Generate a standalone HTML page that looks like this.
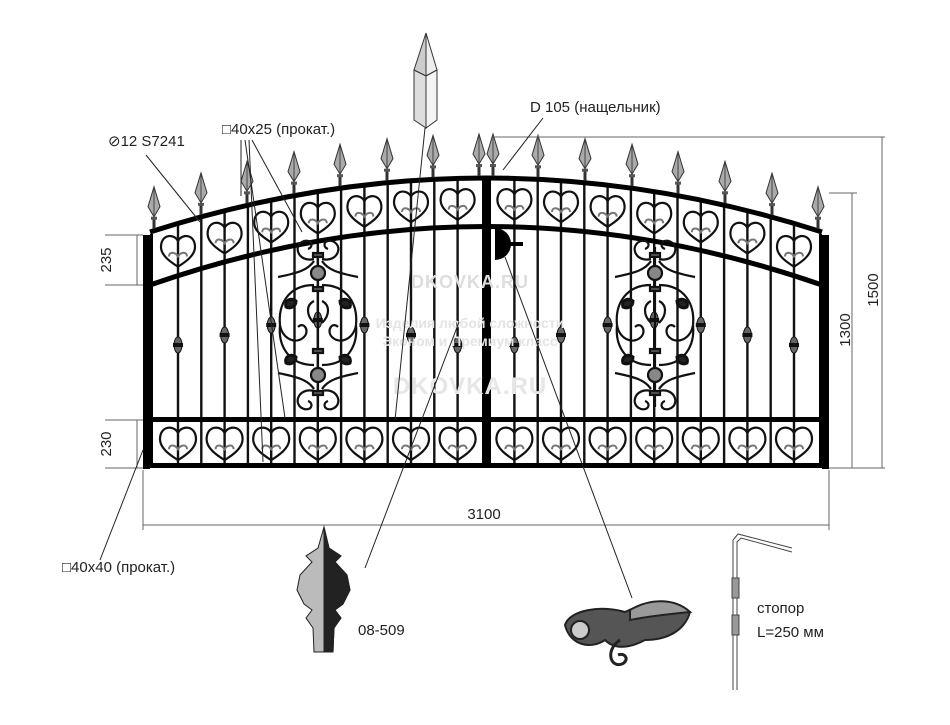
<!DOCTYPE html>
<html><head><meta charset="utf-8"><style>
html,body{margin:0;padding:0;background:#fff;width:950px;height:725px;overflow:hidden}
svg{display:block;font-family:"Liberation Sans",sans-serif}
</style></head><body>
<svg id="s" width="950" height="725" viewBox="0 0 950 725" xmlns="http://www.w3.org/2000/svg">
<defs>
<g id="orn" fill="none" stroke="#111" stroke-width="2.2">
  <line x1="0" y1="-78" x2="0" y2="82"/>
  <path d="M-4,-66 C-20,-62 -26,-80 -14,-84 C-6,-86 -4,-78 -10,-76"/>
  <path d="M4,-66 C20,-62 26,-80 14,-84 C6,-86 4,-78 10,-76"/>
  <path d="M-4,-64 C-10,-55 -20,-52 -40,-48"/>
  <path d="M4,-64 C10,-55 20,-52 40,-48"/>
  <path d="M-4,-40 C-30,-40 -40,-20 -38,0 C-36,14 -22,20 -14,12 C-8,6 -14,-4 -20,2"/>
  <path d="M4,-40 C30,-40 40,-20 38,0 C36,14 22,20 14,12 C8,6 14,-4 20,2"/>
  <path d="M-4,40 C-30,40 -40,20 -38,0"/>
  <path d="M4,40 C30,40 40,20 38,0"/>
  <path d="M-4,-2 C-12,-10 -12,-20 -4,-24"/>
  <path d="M4,-2 C12,-10 12,-20 4,-24"/>
  <path d="M-4,66 C-20,62 -26,80 -14,84 C-6,86 -4,78 -10,76"/>
  <path d="M4,66 C20,62 26,80 14,84 C6,86 4,78 10,76"/>
  <path d="M-4,64 C-10,55 -20,52 -40,48"/>
  <path d="M4,64 C10,55 20,52 40,48"/>
  <circle cx="0" cy="-52" r="7" fill="#888"/>
  <circle cx="0" cy="50" r="7" fill="#888"/>
  <rect x="-5" y="-72" width="10" height="4" fill="#555"/>
  <rect x="-5" y="-38" width="10" height="4" fill="#555"/>
  <rect x="-5" y="24" width="10" height="4" fill="#555"/>
  <rect x="-5" y="66" width="10" height="4" fill="#555"/>
  <path d="M-22,-24 c-6,-4 -12,0 -10,6 c4,2 10,0 10,-6z M22,-24 c6,-4 12,0 10,6 c-4,2 -10,0 -10,-6z M-22,32 c-6,-4 -12,0 -10,6 c4,2 10,0 10,-6z M22,32 c6,-4 12,0 10,6 c-4,2 -10,0 -10,-6z" fill="#222" stroke-width="3"/>
</g>
</defs>
<g id="g"></g>
<!-- watermark -->
<g fill="#ddd" font-weight="bold" text-anchor="middle">
<text x="470" y="288" font-size="18" letter-spacing="1">DKOVKA.RU</text>
<text x="470" y="328" font-size="14" fill="#e4e4e4">Изделия любой сложности</text>
<text x="470" y="346" font-size="14" fill="#e4e4e4">Эконом и Премиум класс</text>
<text x="470" y="394" font-size="24" fill="#e6e6e6" letter-spacing="1">DKOVKA.RU</text>
</g>
<!-- dimensions -->
<g stroke="#666" stroke-width="1" fill="none">
<path d="M105,235H143 M105,285H143 M137,235V285 M105,420H143 M105,468H143 M137,420V468"/>
<path d="M829,193H857 M829,468H885 M852,193V468 M493,137H885 M882,137V468"/>
<path d="M143,470V530 M829,470V530 M143,525H829"/>
</g>
<g font-size="15" fill="#222">
<text transform="translate(111,260) rotate(-90)" text-anchor="middle">235</text>
<text transform="translate(111,444) rotate(-90)" text-anchor="middle">230</text>
<text transform="translate(850,330) rotate(-90)" text-anchor="middle">1300</text>
<text transform="translate(878,290) rotate(-90)" text-anchor="middle">1500</text>
<text x="484" y="519" text-anchor="middle">3100</text>
<text x="108" y="146">⊘12 S7241</text>
<text x="222" y="134">□40x25 (прокат.)</text>
<text x="530" y="112">D 105 (нащельник)</text>
<text x="62" y="572">□40x40 (прокат.)</text>
<text x="358" y="635">08-509</text>
<text x="757" y="613">стопор</text>
<text x="757" y="637">L=250 мм</text>
</g>
<!-- leaders -->
<g stroke="#222" stroke-width="1">
<path d="M146,155L200,222 M245,140L285,418 M249,140L263,462 M252,140L302,232 M241,140L241,196 M543,118L503,170 M143,450L100,560 M365,568L459,322 M632,598L505,257 M425,128L395,420"/>
</g>
<!-- spike -->
<g stroke="#333" stroke-width="1">
<path d="M426,33L414,70L426,76Z" fill="#ccc"/><path d="M426,33L437,70L426,76Z" fill="#eee"/>
<path d="M414,70L426,76V128L414,120Z" fill="#ddd"/><path d="M426,76L437,70V120L426,128Z" fill="#f4f4f4"/>
</g>
<!-- finial 08-509 -->
<g stroke="#222" stroke-width="1">
<path d="M324,527 L318,548 L306,556 L312,562 L300,575 L297,590 L304,604 L312,610 L306,618 L313,628 L314,652 L333,652 L334,628 L341,618 L335,610 L343,604 L350,590 L347,575 L335,562 L341,556 L329,548Z" fill="#bbb"/>
<path d="M324,527 L329,548 L341,556 L335,562 L347,575 L350,590 L343,604 L335,610 L341,618 L334,628 L333,652 L324,652Z" fill="#222"/>
</g>
<!-- lock -->
<g stroke="#222" stroke-width="2">
<path d="M565,625 C570,610 600,605 625,612 C650,600 675,600 690,612 C685,630 668,640 645,640 C630,648 615,650 605,640 C590,650 570,645 565,625Z" fill="#555"/>
<circle cx="580" cy="630" r="9" fill="#ccc"/>
<path d="M620,640 C605,650 610,668 622,664 C630,660 625,652 618,655" fill="none" stroke-width="3"/>
<path d="M630,610 C650,598 675,598 690,612 C670,614 650,616 630,620Z" fill="#999"/>
</g>
<!-- stopper -->
<g stroke="#444" stroke-width="1" fill="none">
<path d="M733,690V540L738,534L792,548 M737,690V542L741,538L792,552"/>
<rect x="732" y="578" width="7" height="20" fill="#999"/>
<rect x="732" y="615" width="7" height="20" fill="#999"/>
</g>
</svg>
<script>
(function(){
var g=document.getElementById('g');var h='';
function yo(x){var t=(x-150)/672;return (1-t)*(1-t)*232+2*t*(1-t)*124+t*t*232;}
function yi(x){var t=(x-150)/672;return (1-t)*(1-t)*285+2*t*(1-t)*168+t*t*285;}
function heart(cx,cy,r){
 return '<path d="M'+cx+','+(cy+r*0.95)+' C'+(cx-r*0.4)+','+(cy+r*0.7)+' '+(cx-r)+','+(cy+r*0.3)+' '+(cx-r)+','+(cy-r*0.2)+' C'+(cx-r)+','+(cy-r)+' '+(cx-r*0.2)+','+(cy-r)+' '+cx+','+(cy-r*0.55)+' C'+(cx+r*0.2)+','+(cy-r)+' '+(cx+r)+','+(cy-r)+' '+(cx+r)+','+(cy-r*0.2)+' C'+(cx+r)+','+(cy+r*0.3)+' '+(cx+r*0.4)+','+(cy+r*0.7)+' '+cx+','+(cy+r*0.95)+'" fill="none" stroke="#111" stroke-width="2.2"/>'+
 '<path d="M'+(cx-9)+','+(cy+r*0.35)+' c0,-5 6,-5 9,0 c3,-5 9,-5 9,0" fill="none" stroke="#777" stroke-width="2"/>';
}
var L=[],R=[];
for(var i=0;i<13;i++){L.push(178+i*23.3);R.push(972-(178+i*23.3));}
var bars=L.concat(R);
bars.forEach(function(x){h+='<line x1="'+x+'" y1="'+yo(x)+'" x2="'+x+'" y2="465" stroke="#111" stroke-width="2.4"/>';});
for(var k=0;k<7;k++){[178+k*46.6,972-(178+k*46.6)].forEach(function(cx){
 var cy=(yo(cx)+yi(cx))/2; h+=heart(cx,cy+1,17); h+=heart(cx,443,18);});}
var cy=[345,340,335,330,325,322,320,322,325,330,335,340,345];
bars.forEach(function(x,i){var j=i%13; if(j%2==0){var y=cy[j]; h+='<ellipse cx="'+x+'" cy="'+y+'" rx="4" ry="8" fill="#666" stroke="#111"/><rect x="'+(x-5)+'" y="'+(y-2)+'" width="10" height="4" fill="#111"/>';}});
h+='<path d="M150,232 Q486,124 822,232" fill="none" stroke="#000" stroke-width="5"/>';
h+='<path d="M150,285 Q486,168 822,285" fill="none" stroke="#000" stroke-width="5"/>';
h+='<rect x="148" y="417" width="676" height="5" fill="#000"/><rect x="148" y="463" width="676" height="5" fill="#000"/>';
h+='<rect x="143" y="235" width="7" height="234" fill="#000"/><rect x="822" y="235" width="7" height="234" fill="#000"/>';
h+='<rect x="150" y="234" width="3" height="234" fill="#000"/><rect x="819" y="234" width="3" height="234" fill="#000"/>';
h+='<rect x="482" y="'+(yo(482)-2)+'" width="9" height="'+(470-yo(482))+'" fill="#000"/>';
h+='<path d="M495,228 A16,16 0 0 1 495,260Z" fill="#000"/><rect x="495" y="242" width="28" height="4" fill="#000"/>';
h+='<use href="#orn" transform="translate(318,325)"/><use href="#orn" transform="translate(655,325)"/>';
var F=[154,201,247,294,340,387,433,479,493,538,585,632,678,725,772,818];
F.forEach(function(x){var b=yo(x)-2;h+='<line x1="'+x+'" y1="'+b+'" x2="'+x+'" y2="'+(b-10)+'" stroke="#333" stroke-width="3"/><rect x="'+(x-3)+'" y="'+(b-12)+'" width="6" height="3" fill="#555"/><path d="M'+x+','+(b-42)+' L'+(x+6)+','+(b-22)+' L'+x+','+(b-12)+' L'+(x-6)+','+(b-22)+'Z" fill="#aaa" stroke="#333" stroke-width="1"/><line x1="'+x+'" y1="'+(b-40)+'" x2="'+x+'" y2="'+(b-13)+'" stroke="#444" stroke-width="1"/>';});
g.innerHTML=h;
})();
</script>
</body></html>
